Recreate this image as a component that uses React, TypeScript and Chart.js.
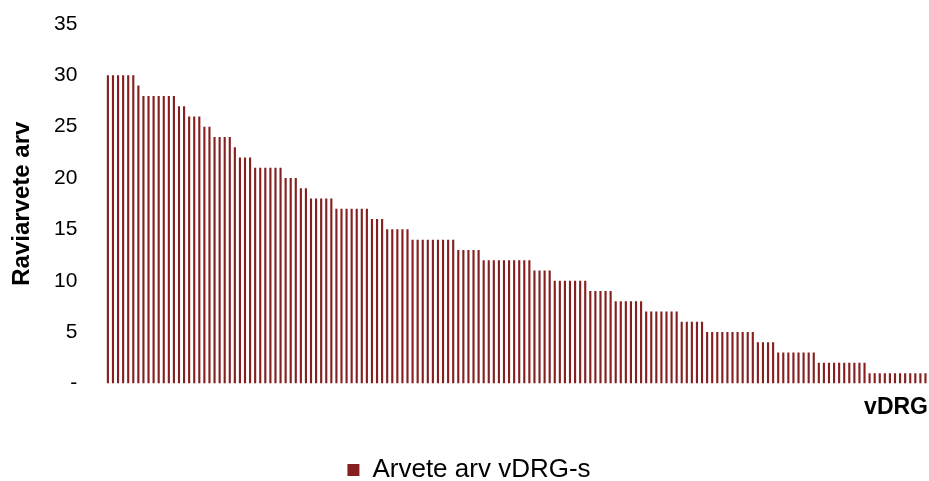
import React, { useEffect, useRef } from "react";
import { Chart, registerables } from "chart.js";

Chart.register(...registerables);

const seriesName = "Arvete arv vDRG-s";
const yTitle = "Raviarvete arv";
const xTitle = "vDRG";
const yTicks = [0, 5, 10, 15, 20, 25, 30, 35];

const values: number[] = [
  30, 30, 30, 30, 30, 30,
  29,
  28, 28, 28, 28, 28, 28, 28,
  27, 27,
  26, 26, 26,
  25, 25,
  24, 24, 24, 24,
  23,
  22, 22, 22,
  21, 21, 21, 21, 21, 21,
  20, 20, 20,
  19, 19,
  18, 18, 18, 18, 18,
  17, 17, 17, 17, 17, 17, 17,
  16, 16, 16,
  15, 15, 15, 15, 15,
  14, 14, 14, 14, 14, 14, 14, 14, 14,
  13, 13, 13, 13, 13,
  12, 12, 12, 12, 12, 12, 12, 12, 12, 12,
  11, 11, 11, 11,
  10, 10, 10, 10, 10, 10, 10,
  9, 9, 9, 9, 9,
  8, 8, 8, 8, 8, 8,
  7, 7, 7, 7, 7, 7, 7,
  6, 6, 6, 6, 6,
  5, 5, 5, 5, 5, 5, 5, 5, 5, 5,
  4, 4, 4, 4,
  3, 3, 3, 3, 3, 3, 3, 3,
  2, 2, 2, 2, 2, 2, 2, 2, 2, 2,
  1, 1, 1, 1, 1, 1, 1, 1, 1, 1, 1, 1,
];

const categories: string[] = values.map((_, i) => String(i + 1));

const barColor = "#861F1F";
const FONT = "'Liberation Sans', Arial, sans-serif";

export default function App() {
  const ref = useRef<HTMLCanvasElement | null>(null);

  useEffect(() => {
    document.body.style.margin = "0";
    const canvas = ref.current;
    if (!canvas) return;
    const chart = new Chart(canvas, {
      type: "bar",
      data: {
        labels: categories,
        datasets: [
          {
            label: seriesName,
            data: values,
            backgroundColor: barColor,
            borderWidth: 0,
            barPercentage: 0.42,
            categoryPercentage: 1,
          },
        ],
      },
      options: {
        animation: false,
        responsive: false,
        maintainAspectRatio: false,
        layout: { padding: { top: 24, right: 1, left: 10, bottom: -12 } },
        plugins: {
          tooltip: { enabled: false },
          legend: {
            position: "bottom",
            labels: {
              color: "#000",
              font: { family: FONT, size: 26 },
              boxWidth: 12,
              boxHeight: 12,
              padding: 0,
            },
          },
        },
        scales: {
          x: {
            grid: { display: false },
            border: { display: false },
            ticks: { display: false },
            title: {
              display: true,
              text: xTitle,
              align: "end",
              color: "#000",
              font: { family: FONT, size: 23, weight: "bold" },
              padding: { top: 2, bottom: 36 },
            },
          },
          y: {
            min: 0,
            max: 35,
            grid: { display: false },
            border: { display: false },
            afterBuildTicks: (axis: any) => {
              axis.ticks = yTicks.map((v) => ({ value: v }));
            },
            afterFit: (axis: any) => {
              axis.paddingTop = 0;
              axis.paddingBottom = 0;
            },
            ticks: {
              color: "#000",
              font: { family: FONT, size: 21 },
              padding: 20,
              callback: (v: any) => (Number(v) === 0 ? "-" : String(v)),
            },
            title: {
              display: true,
              text: yTitle,
              color: "#000",
              font: { family: FONT, size: 24, weight: "bold", lineHeight: 1 },
              padding: { top: 0, bottom: 0 },
            },
          },
        },
      },
    });
    return () => chart.destroy();
  }, []);

  return (
    <div style={{ width: 929, height: 481, position: "relative" }}>
      <canvas ref={ref} width={929} height={481} style={{ width: 929, height: 481, display: "block" }} />
    </div>
  );
}
